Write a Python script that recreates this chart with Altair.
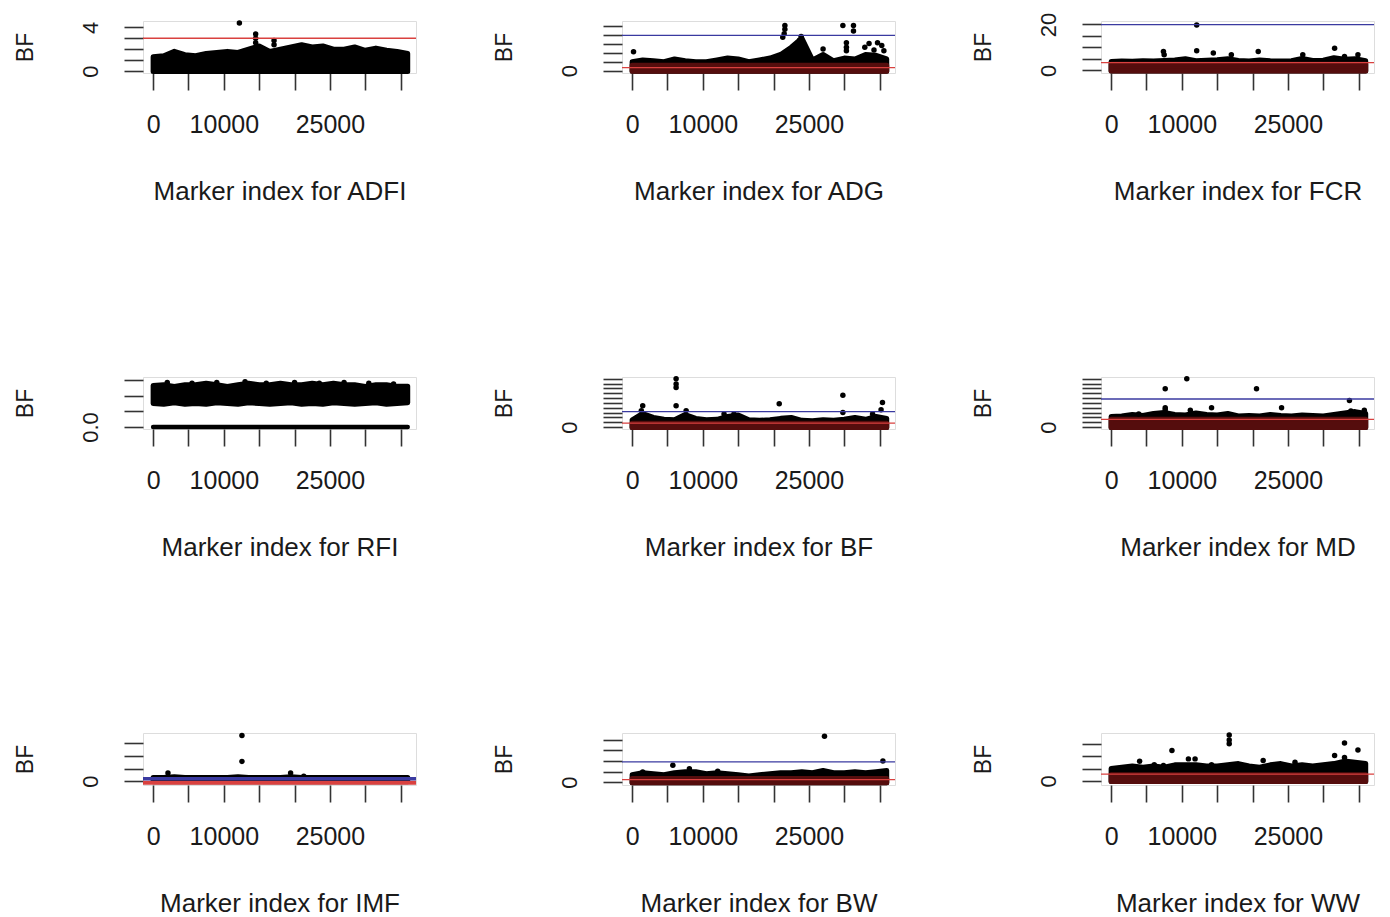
import altair as alt
import pandas as pd

FONT = "Liberation Sans"
INK = "#1a1a1a"
MAROON = "#550d0d"
RED = "#d9413f"
BLUE = "#3a3aa0"

# marker positions at which the upper edge of the dense point cloud was read
POS = [0, 1500, 3000, 4500, 6000, 7500, 9000, 10500, 12000, 13500, 15000, 16500,
       18000, 19500, 21000, 22500, 24000, 25500, 27000, 28500, 30000, 31500, 33000,
       34500, 36000]
XTICKS = [0, 5000, 10000, 15000, 20000, 25000, 30000, 35000]
XSHOWN = [0, 10000, 25000]

# upper edge of the dense cloud for each trait
ADFI_TOP = [1.3, 1.4, 1.8, 1.5, 1.4, 1.6, 1.7, 1.8, 1.7, 2.0, 2.3, 1.8, 2.0, 2.2, 2.4,
            2.2, 2.3, 2.0, 2.0, 2.2, 1.9, 2.1, 1.9, 1.8, 1.6]
ADG_TOP = [1.0, 1.2, 1.1, 1.0, 1.3, 1.1, 1.0, 1.0, 1.2, 1.4, 1.3, 1.0, 1.2, 1.4, 1.8,
           2.6, 3.6, 1.2, 1.8, 1.1, 1.4, 1.3, 1.8, 1.7, 1.3]
FCR_TOP = [3.8, 4.0, 3.9, 4.2, 4.0, 4.3, 4.5, 5.0, 4.2, 4.4, 4.6, 5.0, 4.3, 4.0, 4.5,
           4.1, 4.0, 4.2, 5.2, 4.3, 4.4, 5.5, 4.8, 5.0, 4.2]
RFI_TOP = [0.265, 0.27, 0.26, 0.27, 0.27, 0.28, 0.27, 0.26, 0.27, 0.28, 0.27, 0.27,
           0.28, 0.27, 0.27, 0.28, 0.27, 0.28, 0.27, 0.27, 0.26, 0.27, 0.27, 0.26, 0.26]
RFI_BOT = [0.15, 0.145, 0.155, 0.145, 0.15, 0.145, 0.155, 0.15, 0.145, 0.155, 0.15, 0.145,
           0.15, 0.155, 0.145, 0.15, 0.145, 0.155, 0.15, 0.145, 0.15, 0.155, 0.145, 0.15, 0.155]
BF_TOP = [1.5, 2.8, 2.0, 1.6, 1.5, 2.6, 1.8, 1.5, 1.6, 2.2, 2.5, 1.5, 1.4, 1.5, 1.8,
          2.0, 1.4, 1.3, 1.5, 1.4, 1.6, 2.0, 1.6, 2.2, 1.8]
MD_TOP = [2.2, 2.3, 2.6, 2.4, 2.8, 3.0, 2.6, 2.5, 2.9, 2.6, 2.5, 2.8, 2.3, 2.4, 2.3,
          2.6, 2.4, 2.3, 2.5, 2.4, 2.3, 2.6, 2.9, 3.2, 2.8]
IMF_TOP = [0.3, 0.3, 0.35, 0.3, 0.3, 0.3, 0.3, 0.3, 0.35, 0.3, 0.3, 0.3, 0.3, 0.35, 0.3,
           0.3, 0.3, 0.3, 0.3, 0.3, 0.3, 0.3, 0.3, 0.3, 0.3]
BW_TOP = [0.7, 0.9, 0.8, 0.7, 0.9, 1.0, 1.0, 0.8, 0.9, 0.8, 0.7, 0.6, 0.7, 0.8, 0.9,
          0.9, 1.0, 0.9, 1.1, 0.9, 0.9, 1.0, 0.9, 1.0, 1.1]
WW_TOP = [1.0, 1.1, 1.2, 1.1, 1.2, 1.1, 1.3, 1.3, 1.3, 1.2, 1.2, 1.3, 1.4, 1.2, 1.1,
          1.3, 1.4, 1.2, 1.3, 1.2, 1.3, 1.4, 1.6, 1.5, 1.4]

# isolated markers above the cloud
ADFI_OUT_X = [12200, 14500, 14500, 14500, 17100, 17100]
ADFI_OUT_Y = [4.4, 3.4, 3.0, 2.6, 2.8, 2.4]
ADG_OUT_X = [200, 21600, 21600, 21500, 21300, 29800, 31300, 31300, 30300, 30300, 30300,
             27000, 32900, 33500, 34200, 34700, 35300, 35600, 23900, 23700]
ADG_OUT_Y = [2.1, 5.0, 4.6, 4.1, 3.7, 5.0, 5.0, 4.4, 3.1, 2.6, 2.2, 2.4, 2.6, 3.0, 2.3,
             3.1, 2.8, 2.2, 3.8, 3.4]
FCR_OUT_X = [7400, 7500, 12100, 12100, 14450, 17000, 20800, 27100, 31600, 33000, 34900]
FCR_OUT_Y = [8.2, 6.8, 19.8, 8.5, 7.5, 6.8, 8.2, 6.8, 9.6, 6.0, 6.8]
RFI_OUT_X = [2000, 5500, 9000, 13000, 16000, 20000, 23500, 27000, 30500, 34000]
RFI_OUT_Y = [0.285, 0.28, 0.285, 0.29, 0.28, 0.285, 0.28, 0.285, 0.28, 0.275]
BF_OUT_X = [6220, 6220, 6220, 6220, 7640, 1500, 1300, 20800, 29800, 29800, 35400, 35200,
            13000, 14400, 34000]
BF_OUT_Y = [10.0, 8.9, 8.2, 4.4, 3.4, 4.4, 3.4, 4.8, 6.6, 3.0, 5.1, 3.6, 2.7, 2.7, 2.7]
MD_OUT_X = [7650, 10700, 20560, 33700, 7650, 7650, 14200, 24100, 11200, 35800, 33900, 3900]
MD_OUT_Y = [7.9, 10.0, 7.9, 5.5, 4.0, 3.6, 4.0, 4.0, 3.5, 3.5, 3.3, 2.7]
IMF_OUT_X = [12560, 12560, 2100, 19440, 21300]
IMF_OUT_Y = [3.6, 1.56, 0.65, 0.65, 0.4]
BW_OUT_X = [27200, 35460, 5760, 8100, 1500, 12100]
BW_OUT_Y = [4.33, 2.0, 1.6, 1.28, 0.96, 1.03]
WW_OUT_X = [16700, 16700, 16700, 8600, 33000, 33000, 34900, 31600, 4030, 10930, 11870,
            21500, 6100, 7400, 14200, 26000]
WW_OUT_Y = [3.7, 3.3, 3.0, 2.46, 3.06, 1.9, 2.5, 2.05, 1.58, 1.78, 1.78, 1.64, 1.3, 1.25,
            1.3, 1.5]

# threshold lines (None = not drawn) and the maroon band of near-zero markers
PANELS = [
    dict(name="ADFI", top=ADFI_TOP, bot=None, floor=-0.05, band=None, ox=ADFI_OUT_X, oy=ADFI_OUT_Y,
         dom=[-0.18, 4.58], ticks=[0, 1, 2, 3, 4], shown=[0, 4], fmt="d", red=3.0, blue=None),
    dict(name="ADG", top=ADG_TOP, bot=None, floor=-0.05, band=0.6, ox=ADG_OUT_X, oy=ADG_OUT_Y,
         dom=[-0.25, 5.5], ticks=[0, 1, 2, 3, 4, 5], shown=[0], fmt="d", red=0.35, blue=3.9),
    dict(name="FCR", top=FCR_TOP, bot=None, floor=-0.3, band=2.6, ox=FCR_OUT_X, oy=FCR_OUT_Y,
         dom=[-1.2, 21.5], ticks=[0, 5, 10, 15, 20], shown=[0, 20], fmt="d", red=3.3, blue=19.9),
    dict(name="RFI", top=RFI_TOP, bot=RFI_BOT, floor=None, band=None, ox=RFI_OUT_X, oy=RFI_OUT_Y,
         dom=[-0.013, 0.32], ticks=[0, 0.1, 0.2, 0.3], shown=[0], fmt=".1f", red=None, blue=None),
    dict(name="BF", top=BF_TOP, bot=None, floor=-0.1, band=0.8, ox=BF_OUT_X, oy=BF_OUT_Y,
         dom=[-0.4, 10.35], ticks=list(range(11)), shown=[0], fmt="d", red=0.8, blue=3.2),
    dict(name="MD", top=MD_TOP, bot=None, floor=-0.1, band=1.6, ox=MD_OUT_X, oy=MD_OUT_Y,
         dom=[-0.4, 10.35], ticks=list(range(11)), shown=[0], fmt="d", red=1.6, blue=5.8),
    dict(name="IMF", top=IMF_TOP, bot=None, floor=-0.05, band=None, ox=IMF_OUT_X, oy=IMF_OUT_Y,
         dom=[-0.3, 3.8], ticks=[0, 1, 2, 3], shown=[0], fmt="d", red=-0.13, blue=0.2, thick=True),
    dict(name="BW", top=BW_TOP, bot=None, floor=-0.05, band=0.35, ox=BW_OUT_X, oy=BW_OUT_Y,
         dom=[-0.26, 4.64], ticks=[0, 1, 2, 3, 4], shown=[0], fmt="d", red=0.25, blue=1.92),
    dict(name="WW", top=WW_TOP, bot=None, floor=-0.05, band=0.5, ox=WW_OUT_X, oy=WW_OUT_Y,
         dom=[-0.33, 3.87], ticks=[0, 1, 2, 3], shown=[0], fmt="d", red=0.55, blue=None),
]

W, H = 273, 52
XDOM = [-1430, 37170]


def make_panel(p):
    xs = alt.Scale(domain=XDOM, nice=False, zero=False)
    ys = alt.Scale(domain=p["dom"], nice=False, zero=False)
    xexpr = " || ".join(f"datum.value == {v}" for v in XSHOWN)
    yexpr = " || ".join(f"datum.value == {v}" for v in p["shown"])
    xaxis = alt.Axis(values=XTICKS, format="d", labelExpr=f"({xexpr}) ? datum.label : ''",
                     domain=False, grid=False, ticks=True, tickSize=17, tickWidth=1.6,
                     tickColor="#333", labelFont=FONT, labelFontSize=25, labelColor=INK,
                     labelBaseline="alphabetic", labelPadding=42, labelOverlap=False,
                     labelFlush=False, titleFont=FONT, titleFontSize=26, titleColor=INK,
                     titleFontWeight="normal", titleX=W / 2, titleY=126, titleAlign="center",
                     titleBaseline="alphabetic")
    yaxis = alt.Axis(values=p["ticks"], format=p["fmt"], labelExpr=f"({yexpr}) ? datum.label : ''",
                     domain=False, grid=False, ticks=True, tickSize=19, tickWidth=1.6,
                     tickColor="#333", labelFont=FONT, labelFontSize=22, labelColor=INK,
                     labelAngle=270, labelAlign="center", labelBaseline="middle",
                     labelPadding=34, labelOverlap=False, labelFlush=False,
                     titleFont=FONT, titleFontSize=23, titleColor=INK, titleFontWeight="normal",
                     titleAngle=270, titleX=-118, titleY=H / 2, titleAlign="center",
                     titleBaseline="middle")
    xt = f"Marker index for {p['name']}"

    def X(f):
        return alt.X(f"{f}:Q", scale=xs, axis=xaxis, title=xt)

    def Y(f):
        return alt.Y(f"{f}:Q", scale=ys, axis=yaxis, title="BF")

    n = len(POS)
    bulk = pd.DataFrame({
        "idx": POS,
        "top": p["top"],
        "bot": p["bot"] if p["bot"] is not None else [p["floor"]] * n,
    })
    layers = [alt.Chart(bulk).mark_area(color="black", stroke="black", strokeWidth=5,
                                        strokeJoin="round", interpolate="linear").encode(
        x=X("idx"), y=Y("top"), y2="bot:Q")]
    if p["band"] is not None:
        bd = pd.DataFrame({"idx": POS, "b": [p["band"]] * n, "f": [p["floor"]] * n})
        layers.append(alt.Chart(bd).mark_area(color=MAROON, stroke=MAROON, strokeWidth=5,
                                              strokeJoin="round").encode(
            x=X("idx"), y=Y("b"), y2="f:Q"))
    if p["name"] == "RFI":
        z = pd.DataFrame({"idx": [POS[0], POS[-1]], "z": [0, 0]})
        layers.append(alt.Chart(z).mark_line(color="black", strokeWidth=4.5, strokeCap="round").encode(
            x=X("idx"), y=Y("z")))
    od = pd.DataFrame({"idx": p["ox"], "v": p["oy"]})
    layers.append(alt.Chart(od).mark_circle(color="black", size=30, opacity=1).encode(
        x=X("idx"), y=Y("v")))
    thick = p.get("thick", False)
    if p["red"] is not None:
        layers.append(alt.Chart(pd.DataFrame({"r": [p["red"]]})).mark_rule(
            color=RED, strokeWidth=4 if thick else 1.3).encode(y=Y("r")))
    if p["blue"] is not None:
        layers.append(alt.Chart(pd.DataFrame({"b": [p["blue"]]})).mark_rule(
            color=BLUE, strokeWidth=3.5 if thick else 1.3).encode(y=Y("b")))
    return alt.layer(*layers).properties(width=W, height=H)


charts = [make_panel(p) for p in PANELS]
chart = alt.concat(*charts, columns=3, spacing={"row": 304, "column": 206}, bounds="flush").properties(
    padding={"left": 5, "top": 3, "right": 5, "bottom": 5}
).configure_view(stroke="#333", strokeWidth=1.6).configure(background="white")

chart.save("out.html", embed_options={"renderer": "svg", "actions": False})
